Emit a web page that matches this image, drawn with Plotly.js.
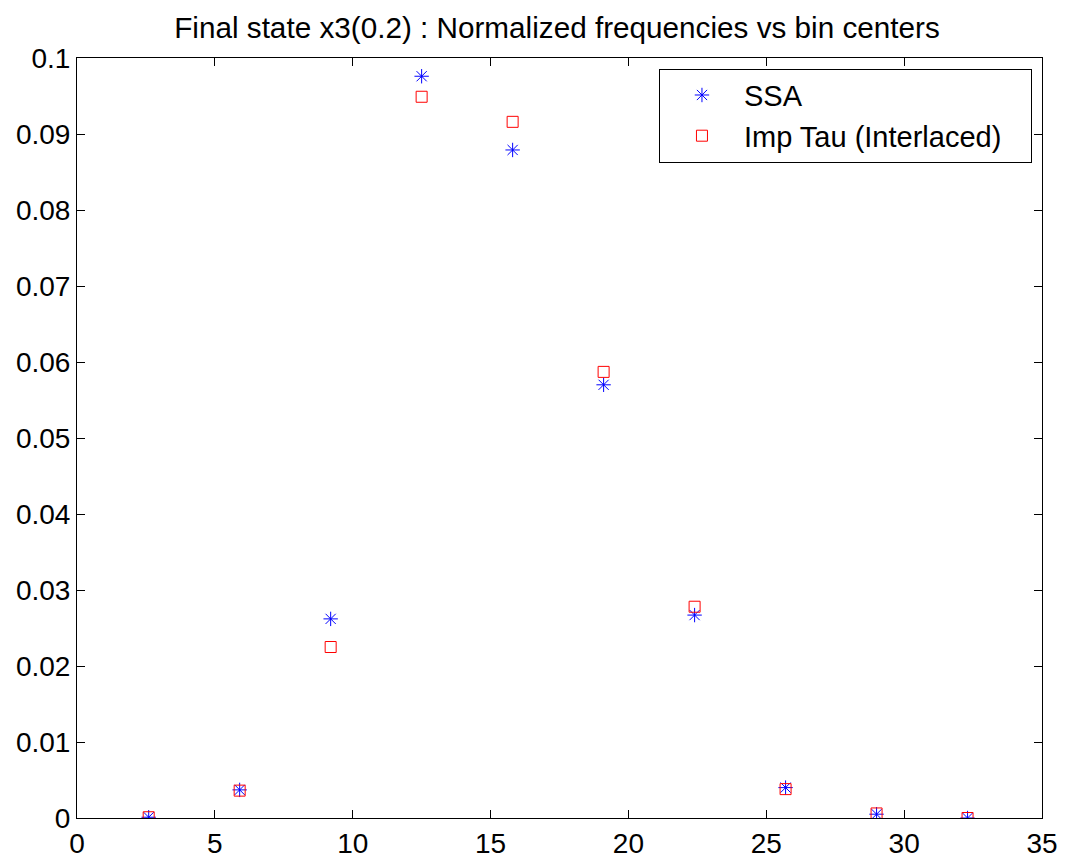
<!DOCTYPE html>
<html><head><meta charset="utf-8">
<script src="https://cdn.plot.ly/plotly-3.0.1.min.js"></script>
<style>body{margin:0;background:#fff}#c{width:1065px;height:863px}</style>
</head><body><div id="c"></div>
<script>
const binCenters = [2.6, 5.9, 9.2, 12.5, 15.8, 19.1, 22.4, 25.7, 29.0, 32.3];
const ssa = [0.0001, 0.0037, 0.0262, 0.0976, 0.0879, 0.0570, 0.0267, 0.0040, 0.0005, 0.0000];
const impTau = [0.0001, 0.0036, 0.0225, 0.0949, 0.0916, 0.0587, 0.0278, 0.0038, 0.0006, 0.0000];
const xTicks = [0, 5, 10, 15, 20, 25, 30, 35];
const yTicks = [0, 0.01, 0.02, 0.03, 0.04, 0.05, 0.06, 0.07, 0.08, 0.09, 0.1];
const yTickText = ['0', '0.01', '0.02', '0.03', '0.04', '0.05', '0.06', '0.07', '0.08', '0.09', '0.1'];
const seriesNames = ['SSA', 'Imp Tau (Interlaced)'];

const font = 'Liberation Sans, Arial, sans-serif';
const pad = '\u00a0\u00a0\u00a0';
const traces = [
  {x: binCenters, y: ssa, name: seriesNames[0] + pad, type: 'scatter', mode: 'markers',
   marker: {symbol: 'asterisk-open', size: 12, color: '#0000ff', line: {color: '#0000ff', width: 1}}},
  {x: binCenters, y: impTau, name: seriesNames[1] + pad, type: 'scatter', mode: 'markers',
   marker: {symbol: 'square-open', size: 11, color: '#ff0000', line: {color: '#ff0000', width: 1}}}
];
const axisCommon = {
  showgrid: false, zeroline: false, showline: true, mirror: 'ticks', linecolor: '#000', linewidth: 1,
  ticks: 'inside', ticklen: 8, tickcolor: '#000', tickwidth: 1,
  tickfont: {family: font, size: 28, color: '#000'}
};
const layout = {
  width: 1065, height: 863,
  margin: {l: 77, r: 23, t: 58, b: 45},
  paper_bgcolor: '#fff', plot_bgcolor: '#fff',
  font: {family: font, color: '#000'},
  title: {text: 'Final state x3(0.2) : Normalized frequencies vs bin centers',
          font: {family: font, size: 29.7, color: '#000'},
          x: 557/1065, xanchor: 'center', yref: 'container', y: 1 - 28/863, yanchor: 'middle'},
  xaxis: Object.assign({}, axisCommon, {range: [0, 35], tickvals: xTicks, ticktext: xTicks.map(String)}),
  yaxis: Object.assign({}, axisCommon, {range: [0, 0.1], tickvals: yTicks, ticktext: yTickText}),
  showlegend: true,
  legend: {x: 0.9896, xanchor: 'right', y: 0.986, yanchor: 'top',
           bordercolor: '#000', borderwidth: 1, bgcolor: '#fff',
           font: {family: font, size: 29, color: '#000'}, itemwidth: 74, tracegroupgap: 0}
};
Plotly.newPlot('c', traces, layout, {displayModeBar: false});
</script></body></html>
